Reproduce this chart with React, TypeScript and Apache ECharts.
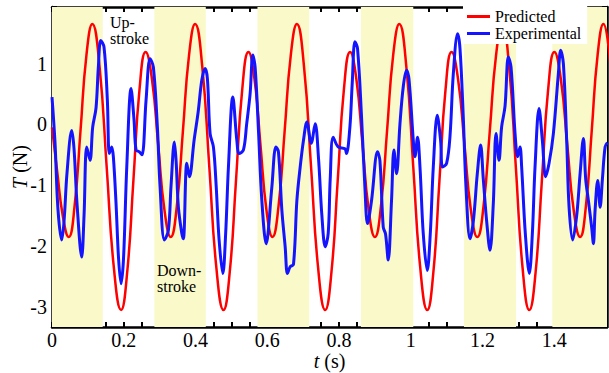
import React, { useEffect, useRef } from "react";
import * as echarts from "echarts";

// Predicted thrust (red)
const predT = [
  0, 0.015, 0.03, 0.0465,
  0.063, 0.0795, 0.096, 0.1124,
  0.1324, 0.1524, 0.1725, 0.1925,
  0.2096, 0.2268, 0.2439, 0.261,
  0.2785, 0.296, 0.3135, 0.331,
  0.348, 0.365, 0.382, 0.3989,
  0.4187, 0.4385, 0.4582, 0.478,
  0.4954, 0.5128, 0.5302, 0.5476,
  0.5643, 0.581, 0.5978, 0.6145,
  0.6315, 0.6486, 0.6656, 0.6826,
  0.7023, 0.7221, 0.7418, 0.7615,
  0.7789, 0.7963, 0.8136, 0.831,
  0.8483, 0.8655, 0.8828, 0.9,
  0.917, 0.934, 0.951, 0.968,
  0.9875, 1.007, 1.0265, 1.046,
  1.063, 1.0799, 1.0969, 1.1138,
  1.1317, 1.1497, 1.1676, 1.1855,
  1.2029, 1.2204, 1.2378, 1.2552,
  1.274, 1.2929, 1.3117, 1.3305,
  1.348, 1.3654, 1.3829, 1.4003,
  1.4182, 1.4362, 1.4541, 1.472,
  1.4883, 1.5045, 1.5208, 1.537,
  1.5567,
];
const predV = [
  -0.05, -0.8, -1.5, -1.85,
  -1.34, -0.1, 1.14, 1.65,
  0.96, -0.7, -2.36, -3.05,
  -2.43, -0.93, 0.57, 1.19,
  0.75, -0.33, -1.41, -1.85,
  -1.34, -0.1, 1.14, 1.65,
  0.96, -0.7, -2.36, -3.05,
  -2.43, -0.93, 0.57, 1.19,
  0.75, -0.33, -1.41, -1.85,
  -1.34, -0.1, 1.14, 1.65,
  0.96, -0.7, -2.36, -3.05,
  -2.43, -0.93, 0.57, 1.19,
  0.75, -0.33, -1.41, -1.85,
  -1.34, -0.1, 1.14, 1.65,
  0.96, -0.7, -2.36, -3.05,
  -2.43, -0.93, 0.57, 1.19,
  0.75, -0.33, -1.41, -1.85,
  -1.34, -0.1, 1.14, 1.65,
  0.96, -0.7, -2.36, -3.05,
  -2.43, -0.93, 0.57, 1.19,
  0.75, -0.33, -1.41, -1.85,
  -1.34, -0.1, 1.14, 1.65,
  0.96,
];

// Experimental thrust (blue)
const expT = [
  0, 0.0084, 0.0167, 0.0271, 0.0335, 0.0418, 0.055, 0.0614, 0.0697, 0.0828,
  0.0893, 0.0968, 0.106, 0.1135, 0.1227, 0.1292, 0.1358, 0.145, 0.1543, 0.1598,
  0.1665, 0.171, 0.1785, 0.1855, 0.1925, 0.1994, 0.2084, 0.2204, 0.2287, 0.2343,
  0.2435, 0.251, 0.2622, 0.2734, 0.2826, 0.2937, 0.3013, 0.3133, 0.3244, 0.3319,
  0.3411, 0.3459, 0.3523, 0.3618, 0.3662, 0.3757, 0.383, 0.3961, 0.4073, 0.4176,
  0.4268, 0.4332, 0.4407, 0.4499, 0.4575, 0.4658, 0.4762, 0.484, 0.4918, 0.504,
  0.5152, 0.5216, 0.5336, 0.5425, 0.5523, 0.5598, 0.5662, 0.5755, 0.5849, 0.5969,
  0.6128, 0.624, 0.6312, 0.6407, 0.6499, 0.6563, 0.6639, 0.6731, 0.6826, 0.6918,
  0.701, 0.7105, 0.7225, 0.7336, 0.7428, 0.7523, 0.7615, 0.7699, 0.7755, 0.7838,
  0.7978, 0.8165, 0.8209, 0.8304, 0.8368, 0.8444, 0.8516, 0.8628, 0.8722, 0.8795,
  0.8907, 0.9074, 0.9141, 0.9233, 0.9297, 0.9372, 0.9464, 0.9531, 0.9604, 0.9699,
  0.9791, 0.9883, 0.995, 1.007, 1.0117, 1.019, 1.0257, 1.0349, 1.046, 1.0544,
  1.0628, 1.0739, 1.0831, 1.0887, 1.0999, 1.1093, 1.1186, 1.1305, 1.1372, 1.1464,
  1.154, 1.1651, 1.1743, 1.1855, 1.1947, 1.2022, 1.2114, 1.2209, 1.2301, 1.2377,
  1.246, 1.2533, 1.2628, 1.272, 1.2795, 1.2907, 1.298, 1.3046, 1.3091, 1.3194,
  1.3305, 1.3389, 1.3464, 1.3576, 1.3668, 1.376, 1.3855, 1.3975, 1.4114, 1.4179,
  1.4254, 1.4346, 1.4413, 1.4513, 1.4625, 1.472, 1.4812, 1.4876, 1.4951, 1.5044,
  1.5091, 1.5139, 1.5211, 1.5279, 1.5342, 1.5417, 1.5481,
];
const expV = [
  0.45, -0.3, -1.4, -1.9, -1.6, -0.8, -0.1, -0.4, -1.3, -2.18,
  -1.5, -0.37, -0.59, -0.04, 0.27, 0.94, 1.38, 1.27, 0.4, -0.48,
  -0.37, -0.53, -1.3, -2.2, -2.62, -2.2, -0.7, 0.59, 0.07, -0.42,
  -0.45, -0.5, 0.4, 1.08, 0.94, -0.04, -1.03, -1.9, -1.74, -1.0,
  -0.29, -0.6, -1.36, -1.79, -1.88, -0.64, -0.86, -0.26, 0.2, 0.73,
  0.92, 0.75, -0.15, -0.37, -1.0, -1.9, -2.45, -1.8, -0.7, 0.45,
  -0.26, -0.48, -0.42, 0, 0.51, 1.14, 0.94, -0.1, -1.25, -1.96,
  -1.03, -0.37, -0.45, -1.41, -2.01, -2.45, -2.34, -2.3, -1.25, -0.7,
  -0.26, 0.04, -0.31, 0.01, -0.55, -1.5, -2.01, -1.79, -0.9, -0.21,
  -0.37, -0.4, -0.48, -0.04, 0.67, 1.36, 1.25, 0.12, -1.03, -1.63,
  -1.25, -0.45, -0.6, -1.69, -1.8, -2.23, -1.25, -0.42, -0.81, 0.01,
  0.62, 0.89, 0.75, -0.26, -0.53, -0.21, -0.7, -1.8, -2.4, -1.8,
  -0.7, 0.15, -0.26, -0.7, -0.64, -0.2, 0.83, 1.49, 1.25, 0.12,
  -1.03, -1.88, -1.6, -0.81, -0.34, -0.9, -1.58, -2.07, -1.3, -0.15,
  -0.59, -0.04, 0.3, 1.11, 0.94, -0.15, -0.53, -0.37, -0.7, -1.8,
  -2.45, -1.8, -0.7, 0.26, -0.26, -0.86, -0.64, -0.15, 0.83, 1.22,
  1.0, -0.26, -1.36, -1.9, -1.5, -0.81, -0.23, -0.9, -1.25, -1.7,
  -1.96, -1.4, -0.92, -1.36, -0.9, -0.37, -0.3,
];

// Shaded (yellow) time bands [start, end]
const bandStarts = [0, 0.2854, 0.5727, 0.8611, 1.1484, 1.3947];
const bandEnds = [0.1414, 0.4287, 0.7169, 1.007, 1.2934, 1.547];

const X_MIN = 0;
const X_MAX = 1.547;
const Y_MIN = -3.33;
const Y_MAX = 1.93;

const FONT = "Liberation Serif";

export default function App() {
  const ref = useRef<HTMLDivElement>(null);

  useEffect(() => {
    if (!ref.current) return;
    const chart = echarts.init(ref.current, undefined, { renderer: "svg" });

    const predData = predT.map((t, i) => [t, predV[i]]);
    const expData = expT.map((t, i) => [t, expV[i]]);
    const bands = bandStarts.map((s, i) => [{ xAxis: s }, { xAxis: bandEnds[i] }]);

    const tickCommon = {
      axisLine: { show: true, onZero: false, lineStyle: { color: "#000", width: 2.5 } },
      axisTick: { show: true, inside: true, length: 5, lineStyle: { color: "#000", width: 2 } },
      minorTick: { show: true, length: 5, lineStyle: { color: "#000", width: 2 } },
      splitLine: { show: false },
    };

    const yFormatter = (v: number) => (Math.abs(v - Math.round(v)) < 1e-6 ? String(Math.round(v)) : "");
    const xFormatter = (v: number) => {
      const r = Math.round(v * 10) / 10;
      if (Math.abs(v - r) > 1e-6 || v > 1.45) return "";
      return String(r);
    };

    chart.setOption({
      animation: false,
      backgroundColor: "#fff",
      grid: { left: 52, right: 2, top: 7, bottom: 46, containLabel: false, outerBoundsMode: "none" },
      xAxis: [
        {
          type: "value",
          min: X_MIN,
          max: X_MAX,
          interval: 0.2,
          position: "bottom",
          ...tickCommon,
          minorTick: { ...tickCommon.minorTick, splitNumber: 4 },
          axisLabel: {
            show: true,
            color: "#000",
            fontFamily: FONT,
            fontSize: 20,
            margin: 3,
            lineHeight: 20,
            formatter: xFormatter,
            showMaxLabel: false,
          },
          name: "{i|t} (s)",
          nameLocation: "middle",
          nameGap: 24,
          nameMoveOverlap: false,
          nameTextStyle: {
            color: "#000",
            fontFamily: FONT,
            fontSize: 20,
            lineHeight: 20,
            rich: { i: { fontStyle: "italic", fontFamily: FONT, fontSize: 20, lineHeight: 20, color: "#000" } },
          },
        },
        {
          type: "value",
          min: X_MIN,
          max: X_MAX,
          interval: 0.2,
          position: "top",
          ...tickCommon,
          minorTick: { ...tickCommon.minorTick, splitNumber: 4 },
          axisLabel: { show: false },
        },
      ],
      yAxis: [
        {
          type: "value",
          min: Y_MIN,
          max: Y_MAX,
          minInterval: 1,
          maxInterval: 1,
          position: "left",
          ...tickCommon,
          minorTick: { ...tickCommon.minorTick, splitNumber: 2 },
          axisLabel: {
            show: true,
            color: "#000",
            fontFamily: FONT,
            fontSize: 20,
            margin: 5,
            formatter: yFormatter,
            showMinLabel: false,
            showMaxLabel: false,
          },
          name: "{i|T} (N)",
          nameLocation: "middle",
          nameGap: 22,
          nameMoveOverlap: false,
          nameRotate: 90,
          nameTextStyle: {
            color: "#000",
            fontFamily: FONT,
            fontSize: 20,
            rich: { i: { fontStyle: "italic", fontFamily: FONT, fontSize: 20, color: "#000" } },
          },
        },
        {
          type: "value",
          min: Y_MIN,
          max: Y_MAX,
          minInterval: 1,
          maxInterval: 1,
          position: "right",
          ...tickCommon,
          minorTick: { ...tickCommon.minorTick, splitNumber: 2 },
          axisLabel: { show: false },
        },
      ],
      legend: {
        orient: "vertical",
        left: 463,
        top: 6,
        padding: [2, 6, 2, 4],
        itemGap: 0,
        itemWidth: 23,
        itemHeight: 3,
        backgroundColor: "#fff",
        textStyle: { color: "#000", fontFamily: FONT, fontSize: 16, lineHeight: 17 },
        data: [
          { name: "Predicted", icon: "rect" },
          { name: "Experimental", icon: "rect" },
        ],
      },
      graphic: [
        {
          type: "text",
          left: 110,
          top: 14,
          z: 10,
          style: { text: "Up-", font: `16px ${FONT}`, fill: "#000" },
        },
        {
          type: "text",
          left: 110,
          top: 30,
          z: 10,
          style: { text: "stroke", font: `16px ${FONT}`, fill: "#000" },
        },
        {
          type: "text",
          left: 157,
          top: 262,
          z: 10,
          style: { text: "Down-", font: `16px ${FONT}`, fill: "#000" },
        },
        {
          type: "text",
          left: 157,
          top: 278,
          z: 10,
          style: { text: "stroke", font: `16px ${FONT}`, fill: "#000" },
        },
      ],
      series: [
        {
          name: "Predicted",
          type: "line",
          xAxisIndex: 0,
          yAxisIndex: 0,
          data: predData,
          smooth: 0.5,
          showSymbol: false,
          symbol: "none",
          clip: true,
          itemStyle: { color: "#ff0000" },
          lineStyle: { color: "#ff0000", width: 2.5 },
          markArea: {
            silent: true,
            itemStyle: { color: "#f9f9c9" },
            data: bands,
          },
          z: 2,
        },
        {
          name: "Experimental",
          type: "line",
          xAxisIndex: 0,
          yAxisIndex: 0,
          data: expData,
          smooth: 0.35,
          showSymbol: false,
          symbol: "none",
          clip: true,
          itemStyle: { color: "#1414ff" },
          lineStyle: { color: "#1414ff", width: 3 },
          z: 3,
        },
      ],
    });

    return () => chart.dispose();
  }, []);

  return (
    <div
      ref={ref}
      style={{ position: "fixed", left: 0, top: 0, width: 609, height: 373, background: "#fff" }}
    />
  );
}
